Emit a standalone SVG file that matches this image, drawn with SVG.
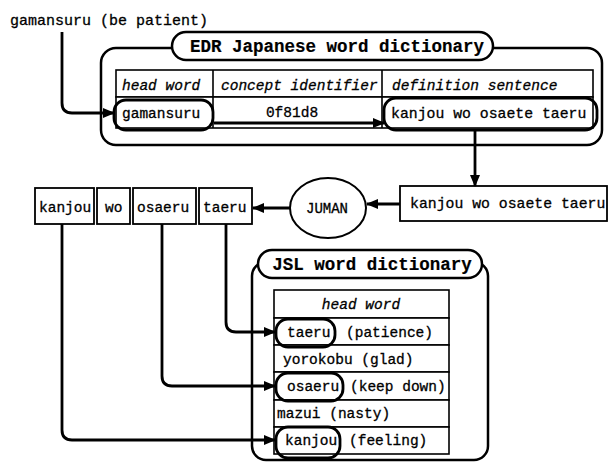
<svg xmlns="http://www.w3.org/2000/svg" width="610" height="462" viewBox="0 0 610 462">
<style>
text{font-family:"Liberation Mono","Courier New",monospace;font-size:14.5px;fill:#000;stroke:#000;stroke-width:0.3}
.t{font-size:17.5px;font-weight:bold;stroke-width:0.2}
.i{font-style:italic}
.c{text-anchor:middle}
.box{fill:#fff;stroke:#000;stroke-width:2.5}
.cell{fill:#fff;stroke:#000;stroke-width:1.6}
.hl{fill:none;stroke:#000;stroke-width:2.8}
.con{fill:none;stroke:#000;stroke-width:2.8;marker-end:url(#ah)}
</style>
<defs>
<marker id="ah" markerUnits="userSpaceOnUse" markerWidth="12" markerHeight="10" refX="11" refY="5" orient="auto">
<path d="M0,0 L12,5 L0,10 z" fill="#000"/>
</marker>
</defs>
<rect width="610" height="462" fill="#fff"/>
<g id="input"><text x="10" y="25" style="font-size:15px">gamansuru (be patient)</text></g>
<g id="edr">
<rect class="box" x="101" y="48" width="501" height="97" rx="15"/>
<rect class="box" x="172" y="32" width="321" height="28" rx="14"/>
<text class="t c" x="337" y="52">EDR Japanese word dictionary</text>
<rect class="cell" x="116" y="70" width="477" height="27"/>
<rect class="cell" x="116" y="97" width="477" height="31"/>
<line class="cell" x1="213" y1="70" x2="213" y2="128"/>
<line class="cell" x1="382" y1="70" x2="382" y2="128"/>
<text class="i" x="122" y="90">head word</text>
<text class="i" x="221" y="90">concept identifier</text>
<text class="i" x="392" y="90">definition sentence</text>
<rect class="hl" x="114" y="100" width="99" height="30" rx="12"/>
<text x="122" y="118">gamansuru</text>
<text class="c" x="292" y="117">0f81d8</text>
<rect class="hl" x="384" y="98" width="213" height="32" rx="12"/>
<text x="391" y="118" style="font-size:14.8px">kanjou wo osaete taeru</text>
</g>
<g id="sentence">
<rect class="box" x="400" y="186" width="207" height="35" style="stroke-width:1.8"/>
<text x="410" y="208" style="font-size:14.8px">kanjou wo osaete taeru</text>
</g>
<g id="juman">
<ellipse class="box" cx="328" cy="208" rx="38" ry="30" style="stroke-width:2"/>
<text class="c" x="327" y="213" style="font-size:14px">JUMAN</text>
</g>
<g id="w-kanjou"><rect class="box" x="35" y="188" width="59" height="36" style="stroke-width:1.8"/><text x="39" y="212">kanjou</text></g>
<g id="w-wo"><rect class="box" x="97" y="188" width="33" height="36" style="stroke-width:1.8"/><text x="105" y="212">wo</text></g>
<g id="w-osaeru"><rect class="box" x="133" y="188" width="63" height="36" style="stroke-width:1.8"/><text x="137" y="212">osaeru</text></g>
<g id="w-taeru"><rect class="box" x="199" y="188" width="53" height="36" style="stroke-width:1.8"/><text x="203" y="212">taeru</text></g>
<g id="jsl">
<rect class="box" x="252" y="262" width="236" height="198" rx="14"/>
<rect class="box" x="258" y="250" width="224" height="28" rx="14"/>
<text class="t c" x="372" y="270">JSL word dictionary</text>
<rect class="cell" x="274" y="290" width="175" height="28"/>
<rect class="cell" x="274" y="318" width="175" height="27"/>
<rect class="cell" x="274" y="345" width="175" height="27"/>
<rect class="cell" x="274" y="372" width="175" height="28"/>
<rect class="cell" x="274" y="400" width="175" height="27"/>
<rect class="cell" x="274" y="427" width="175" height="27"/>
<text class="i c" x="361" y="309">head word</text>
<rect class="hl" x="276" y="319" width="59" height="28" rx="12"/>
<text x="287" y="337">taeru</text><text x="346" y="337">(patience)</text>
<text x="283" y="364">yorokobu (glad)</text>
<rect class="hl" x="276" y="373" width="67" height="28" rx="12"/>
<text x="287" y="391">osaeru</text><text x="350" y="391">(keep down)</text>
<text x="277" y="418">mazui (nasty)</text>
<rect class="hl" x="276" y="427" width="64" height="31" rx="12"/>
<text x="285" y="445">kanjou</text><text x="349" y="445">(feeling)</text>
</g>
<g id="connectors">
<path class="con" d="M62,32 V103 Q62,113 72,113 H114"/>
<path class="con" d="M214,123 H384"/>
<path class="con" d="M475,130 V186"/>
<path class="con" d="M400,204 H367"/>
<path class="con" d="M290,208 H253"/>
<path class="con" d="M226,224 V322 Q226,332 236,332 H275"/>
<path class="con" d="M162,224 V376 Q162,386 172,386 H275"/>
<path class="con" d="M62,224 V430 Q62,440 72,440 H275"/>
</g>
</svg>
